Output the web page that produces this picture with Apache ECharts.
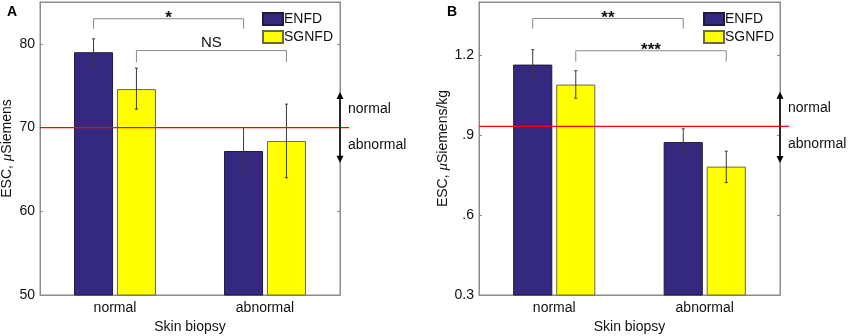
<!DOCTYPE html>
<html>
<head>
<meta charset="utf-8">
<script src="https://cdn.jsdelivr.net/npm/echarts@6/dist/echarts.min.js"></script>
<style>
  html, body { margin: 0; padding: 0; background: #fff; }
  #chart { width: 851px; height: 336px; }
</style>
</head>
<body>
<div id="chart"></div>
<script>
const categories = ['normal', 'abnormal'];

// panel A: ESC, μSiemens
const enfdA = [79.0, 67.2];
const sgnfdA = [74.6, 68.4];
const enfdErrA = [[77.4, 80.6], [64.4, 70.0]];
const sgnfdErrA = [[72.2, 77.1], [64.0, 72.8]];
const cutoffA = 70;
const arrowA = [74.25, 65.8];
// bracket: [cat from, series from, cat to, series to, top, leg end]
const bracketsA = [[0, 0, 1, 0, 83.0, 81.8], [0, 1, 1, 1, 79.2, 77.8]];
const bracketLabelsA = ['*', 'NS'];

// panel B: ESC, μSiemens/kg
const enfdB = [1.165, 0.874];
const sgnfdB = [1.09, 0.782];
const enfdErrB = [[1.108, 1.221], [0.827, 0.924]];
const sgnfdErrB = [[1.039, 1.142], [0.722, 0.840]];
const cutoffB = 0.933;
const arrowB = [1.063, 0.796];
const bracketsB = [[0, 0, 1, 0, 1.338, 1.30], [0, 1, 1, 1, 1.217, 1.176]];
const bracketLabelsB = ['**', '***'];

const FONT = 'Arial, "Liberation Sans", Helvetica, sans-serif';
const AXIS = '#8c8c8c';
const BLUE = '#35297f';
const YELLOW = '#ffff00';

function barOffset(api, s) {
  const band = api.size([1, 0])[0];
  const w = band * 0.26;
  return (s === 0 ? -1 : 1) * w * 1.1 / 2;
}

function errData(enfd, sgnfd) {
  const out = [];
  enfd.forEach((e, i) => out.push([i, e[0], e[1], 0]));
  sgnfd.forEach((e, i) => out.push([i, e[0], e[1], 1]));
  return out;
}

function errorItem(params, api) {
  const x = api.coord([api.value(0), 0])[0] + barOffset(api, api.value(3));
  const lo = api.coord([api.value(0), api.value(1)])[1];
  const hi = api.coord([api.value(0), api.value(2)])[1];
  const st = { stroke: '#3a3a3a', lineWidth: 1 };
  return {
    type: 'group',
    children: [
      { type: 'line', shape: { x1: x, y1: lo, x2: x, y2: hi }, style: st },
      { type: 'line', shape: { x1: x - 1.5, y1: lo, x2: x + 1.5, y2: lo }, style: st },
      { type: 'line', shape: { x1: x - 1.5, y1: hi, x2: x + 1.5, y2: hi }, style: st }
    ]
  };
}

function bracketRender(labels) {
  return function (params, api) {
    const x1 = api.coord([api.value(0), 0])[0] + barOffset(api, api.value(1));
    const x2 = api.coord([api.value(2), 0])[0] + barOffset(api, api.value(3));
    const yt = api.coord([0, api.value(4)])[1];
    const yl = api.coord([0, api.value(5)])[1];
    const lab = labels[params.dataIndex];
    const star = lab.charAt(0) === '*';
    return {
      type: 'group',
      children: [
        { type: 'polyline', shape: { points: [[x1, yl], [x1, yt], [x2, yt], [x2, yl]] },
          style: { stroke: '#8a8a8a', fill: null, lineWidth: 1 } },
        { type: 'text', style: {
            text: lab, x: (x1 + x2) / 2, y: star ? yt - 9 : yt - 15,
            align: 'center', verticalAlign: 'top',
            font: (star ? 'bold 17px ' : '15px ') + FONT, fill: '#111' } }
      ]
    };
  };
}

function cutoffRender(params, api) {
  const cs = params.coordSys;
  const y = api.coord([0, api.value(1)])[1];
  const yTop = api.coord([0, api.value(2)])[1];
  const yBot = api.coord([0, api.value(3)])[1];
  const xr = cs.x + cs.width;
  return {
    type: 'group',
    children: [
      { type: 'line', shape: { x1: cs.x, y1: y, x2: xr + 9, y2: y },
        style: { stroke: '#ff0000', lineWidth: 1.3 } },
      { type: 'line', shape: { x1: xr, y1: yTop + 6, x2: xr, y2: yBot - 6 },
        style: { stroke: '#000', lineWidth: 1.5 } },
      { type: 'polygon', shape: { points: [[xr, yTop], [xr - 3.5, yTop + 7], [xr + 3.5, yTop + 7]] },
        style: { fill: '#000' } },
      { type: 'polygon', shape: { points: [[xr, yBot], [xr - 3.5, yBot - 7], [xr + 3.5, yBot - 7]] },
        style: { fill: '#000' } },
      { type: 'text', style: { text: 'normal', x: xr + 8, y: y - 18, verticalAlign: 'middle',
        font: '14px ' + FONT, fill: '#111' } },
      { type: 'text', style: { text: 'abnormal', x: xr + 8, y: y + 18, verticalAlign: 'middle',
        font: '14px ' + FONT, fill: '#111' } }
    ]
  };
}

function xAxes(grid) {
  return [
    { type: 'category', gridIndex: grid, data: categories, position: 'bottom',
      axisLine: { lineStyle: { color: AXIS } },
      axisTick: { inside: true, alignWithLabel: true, length: 3, lineStyle: { color: AXIS } },
      axisLabel: { color: '#111', fontSize: 14, fontFamily: FONT, margin: 6 },
      name: 'Skin biopsy', nameLocation: 'middle', nameGap: 22,
      nameTextStyle: { color: '#111', fontSize: 14, fontFamily: FONT } },
    { type: 'category', gridIndex: grid, data: categories, position: 'top',
      axisLine: { lineStyle: { color: AXIS } },
      axisTick: { inside: true, alignWithLabel: true, length: 3, lineStyle: { color: AXIS } },
      axisLabel: { show: false } }
  ];
}

function yAxes(grid, min, max, interval, name, gap, fmt) {
  return [
    { type: 'value', gridIndex: grid, min: min, max: max, interval: interval, position: 'left',
      axisLine: { show: true, lineStyle: { color: AXIS } },
      axisTick: { show: true, inside: true, length: 3, lineStyle: { color: AXIS } },
      splitLine: { show: false },
      axisLabel: { color: '#111', fontSize: 14, fontFamily: FONT, margin: 5, formatter: fmt,
        showMaxLabel: false },
      name: name, nameLocation: 'middle', nameGap: gap,
      nameTextStyle: { color: '#111', fontSize: 14, fontFamily: FONT,
        rich: { n: { fontSize: 14, fontFamily: FONT, color: '#111' },
                i: { fontSize: 15, fontFamily: '"Liberation Serif", serif', fontStyle: 'italic', color: '#111' } } } },
    { type: 'value', gridIndex: grid, min: min, max: max, interval: interval, position: 'right',
      axisLine: { show: true, lineStyle: { color: AXIS } },
      axisTick: { show: true, inside: true, length: 3, lineStyle: { color: AXIS } },
      splitLine: { show: false }, axisLabel: { show: false } }
  ];
}

function panelSeries(xi, yi, enfd, sgnfd, enfdErr, sgnfdErr, cutoff, arrow, brackets, labels) {
  return [
    { name: 'ENFD', type: 'bar', xAxisIndex: xi, yAxisIndex: yi, data: enfd,
      barWidth: '26%', barGap: '10%',
      itemStyle: { color: BLUE, borderColor: '#1e1a40', borderWidth: 1 } },
    { name: 'SGNFD', type: 'bar', xAxisIndex: xi, yAxisIndex: yi, data: sgnfd,
      barWidth: '26%', barGap: '10%',
      itemStyle: { color: YELLOW, borderColor: '#6b6b40', borderWidth: 1 } },
    { type: 'custom', xAxisIndex: xi, yAxisIndex: yi, z: 5, renderItem: errorItem,
      data: errData(enfdErr, sgnfdErr) },
    { type: 'custom', xAxisIndex: xi, yAxisIndex: yi, z: 5, renderItem: bracketRender(labels),
      data: brackets },
    { type: 'custom', xAxisIndex: xi, yAxisIndex: yi, z: 6, renderItem: cutoffRender,
      data: [[0, cutoff, arrow[0], arrow[1]]] }
  ];
}

const chart = echarts.init(document.getElementById('chart'), null, { renderer: 'canvas' });
chart.setOption({
  animation: false,
  title: [
    { text: 'A', left: 2, top: 0, textStyle: { fontSize: 14, fontWeight: 'bold', fontFamily: FONT, color: '#000' } },
    { text: 'B', left: 442, top: 0, textStyle: { fontSize: 14, fontWeight: 'bold', fontFamily: FONT, color: '#000' } }
  ],
  legend: [
    { data: ['ENFD', 'SGNFD'], orient: 'vertical', left: 262, top: 12, padding: 0, itemWidth: 20, itemHeight: 12,
      itemGap: 4, icon: 'rect', textStyle: { fontSize: 14, fontFamily: FONT, color: '#111', padding: [0, 0, 0, -4] } },
    { data: ['ENFD', 'SGNFD'], orient: 'vertical', left: 703, top: 12, padding: 0, itemWidth: 20, itemHeight: 12,
      itemGap: 4, icon: 'rect', textStyle: { fontSize: 14, fontFamily: FONT, color: '#111', padding: [0, 0, 0, -4] } }
  ],
  grid: [
    { left: 40, top: 2, width: 300, height: 293, show: true, borderColor: AXIS, borderWidth: 1, outerBoundsMode: 'none' },
    { left: 479, top: 2, width: 301, height: 293, show: true, borderColor: AXIS, borderWidth: 1, outerBoundsMode: 'none' }
  ],
  xAxis: xAxes(0).concat(xAxes(1)),
  yAxis: yAxes(0, 50, 85, 10, '{n|ESC, }{i|μ}{n|Siemens}', 25, v => String(v))
    .concat(yAxes(1, 0.3, 1.4, 0.3, '{n|ESC, }{i|μ}{n|Siemens/kg}', 25, v => {
      const r = Math.round(v * 10) / 10;
      return r === 0.3 ? '0.3' : String(r).replace(/^0\./, '.');
    })),
  series: panelSeries(0, 0, enfdA, sgnfdA, enfdErrA, sgnfdErrA, cutoffA, arrowA, bracketsA, bracketLabelsA)
    .concat(panelSeries(2, 2, enfdB, sgnfdB, enfdErrB, sgnfdErrB, cutoffB, arrowB, bracketsB, bracketLabelsB))
});
</script>
</body>
</html>
